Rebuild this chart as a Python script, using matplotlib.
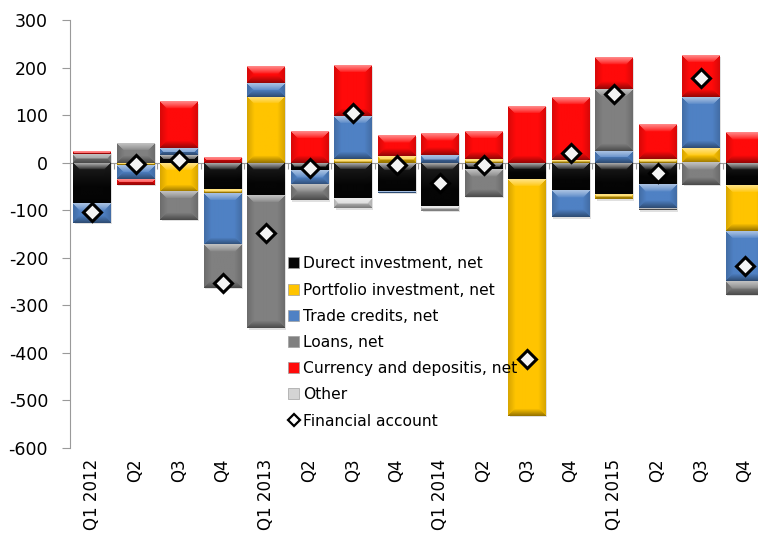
import numpy as np
import matplotlib
matplotlib.use("Agg")
import matplotlib.pyplot as plt
from matplotlib.colors import to_rgb
from matplotlib.patches import Patch, Rectangle
from matplotlib.lines import Line2D

plt.rcParams.update({"font.family": ["DejaVu Sans"], "figure.dpi": 100,
                     "axes.unicode_minus": False})

quarters = ["Q1 2012", "Q2", "Q3", "Q4", "Q1 2013", "Q2", "Q3", "Q4",
            "Q1 2014", "Q2", "Q3", "Q4", "Q1 2015", "Q2", "Q3", "Q4"]

direct    = [-85, 0, 16, -57, -70, -17, -77, -61, -93, -15, -35, -60, -68, -47, 0, -49]
portfolio = [-2, -6, -61, -7, 139, 0, 7, 13, 0, 7, -498, 5, -9, 7, 30, -96]
trade     = [-40, -29, 14, -109, 29, -30, 90, -3, 15, 0, 0, -55, 25, -49, 107, -105]
loans     = [17, 42, -60, -91, -279, -32, 0, 0, 0, -57, 0, 0, 130, -4, -47, -28]
currency  = [6, -12, 97, 12, 34, 67, 107, 43, 45, 58, 119, 131, 66, 72, 88, 64]
other     = [0, 0, 0, 0, 0, 0, -19, 0, -9, 0, 0, 0, 0, 0, 0, 0]
financial = [-104, -3, 6, -253, -149, -12, 105, -6, -42, -6, -414, 20, 144, -21, 178, -217]

series = [
    ("Durect investment, net",      direct,    "#050505"),
    ("Portfolio investment, net",   portfolio, "#FFC400"),
    ("Trade credits, net",          trade,     "#4F81C4"),
    ("Loans, net",                  loans,     "#808080"),
    ("Currency and depositis, net", currency,  "#FF0A0A"),
    ("Other",                       other,     "#D4D4D4"),
]

W, H = 758, 543
fig = plt.figure(figsize=(W / 100, H / 100), dpi=100)
ax = fig.add_axes([70.25 / W, 1 - 447.7 / H, 696 / W, 427.7 / H])
ax.set_xlim(-0.5, len(quarters) - 0.5)
ax.set_ylim(-600, 300)


def bevel_image(ax, x0, x1, y0, y1, color, bev=7.0):
    """RGB array with a top-lit bevel for a rectangle given in data coords."""
    p0 = ax.transData.transform((x0, y0))
    p1 = ax.transData.transform((x1, y1))
    w = max(int(round(abs(p1[0] - p0[0]))), 2)
    h = max(int(round(abs(p1[1] - p0[1]))), 2)
    yy, xx = np.mgrid[0:h, 0:w].astype(float)
    d = np.stack([yy, h - 1 - yy, xx, w - 1 - xx])
    nearest = d.argmin(axis=0)
    t = np.clip(1 - d.min(axis=0) / bev, 0, 1)
    base = np.array(to_rgb(color))
    img = np.ones((h, w, 3)) * base
    dark = base.mean() < 0.2
    # top edge: highlight
    m = nearest == 0
    k_top = 0.6 if dark else 0.5
    img[m] = base + (1 - base) * (k_top * t[m] ** 0.8)[:, None]
    # bottom edge: darker
    m = nearest == 1
    img[m] = base * (1 - 0.4 * t[m])[:, None]
    # sides: slightly darker
    m = nearest >= 2
    img[m] = base * (1 - 0.15 * t[m])[:, None]
    if dark:
        sheen = np.clip(1 - yy / (h * 0.6), 0, 1) * 0.1
        img = img + sheen[..., None]
    return np.clip(img, 0, 1)


width = 0.86
pos_base = np.zeros(len(quarters))
neg_base = np.zeros(len(quarters))
for name, vals, color in series:
    for i, v in enumerate(vals):
        if v == 0:
            continue
        if v > 0:
            y0, y1 = pos_base[i], pos_base[i] + v
            pos_base[i] = y1
        else:
            y0, y1 = neg_base[i] + v, neg_base[i]
            neg_base[i] = y0
        x0, x1 = i - width / 2, i + width / 2
        # drop shadow
        ax.add_patch(Rectangle((x0 + 0.03, y0 - 3), width, y1 - y0,
                               color="#000000", alpha=0.12, lw=0, zorder=2.8))
        img = bevel_image(ax, x0, x1, y0, y1, color)
        ax.imshow(img, extent=(x0, x1, y0, y1), origin="upper", aspect="auto",
                  interpolation="bilinear", zorder=3)

ax.set_xlim(-0.5, len(quarters) - 0.5)
ax.set_ylim(-600, 300)

ax.plot(range(len(quarters)), financial, linestyle="none", marker="D",
        markersize=9.5, markerfacecolor="#F4F4F4", markeredgecolor="#000000",
        markeredgewidth=2.2, zorder=5)

# axes styling
axis_gray = "#9A9A9A"
for s in ["top", "right"]:
    ax.spines[s].set_visible(False)
ax.spines["left"].set_color(axis_gray)
ax.spines["bottom"].set_position(("data", 0))
ax.spines["bottom"].set_color(axis_gray)
ax.spines["bottom"].set_zorder(2.5)

ax.set_yticks(np.arange(-600, 301, 100))
ax.tick_params(axis="y", direction="out", length=6, color=axis_gray,
               labelsize=12.5, pad=10)
ax.set_xticks(np.arange(len(quarters) + 1) - 0.5)
ax.set_xticklabels([])
ax.tick_params(axis="x", direction="out", length=4, color=axis_gray)

sec = ax.secondary_xaxis(0.0)
sec.set_xticks(range(len(quarters)), quarters, rotation=90, fontsize=12)
sec.tick_params(length=0, pad=8)
sec.spines["bottom"].set_visible(False)

handles = [Patch(facecolor=c, edgecolor="#A0A0A0", linewidth=0.5) for _, _, c in series]
handles.append(Line2D([], [], linestyle="none", marker="D", markersize=6,
                      markerfacecolor="white", markeredgecolor="black",
                      markeredgewidth=1.6))
labels = [n for n, _, _ in series] + ["Financial account"]
leg = ax.legend(handles, labels, loc="upper left", bbox_to_anchor=(0.304, 0.462),
                frameon=False, fontsize=11.2, handlelength=0.7, handleheight=0.7,
                handletextpad=0.25, labelspacing=0.72, borderaxespad=0)
leg.set_zorder(6)

fig.savefig("out.png", dpi=100)
